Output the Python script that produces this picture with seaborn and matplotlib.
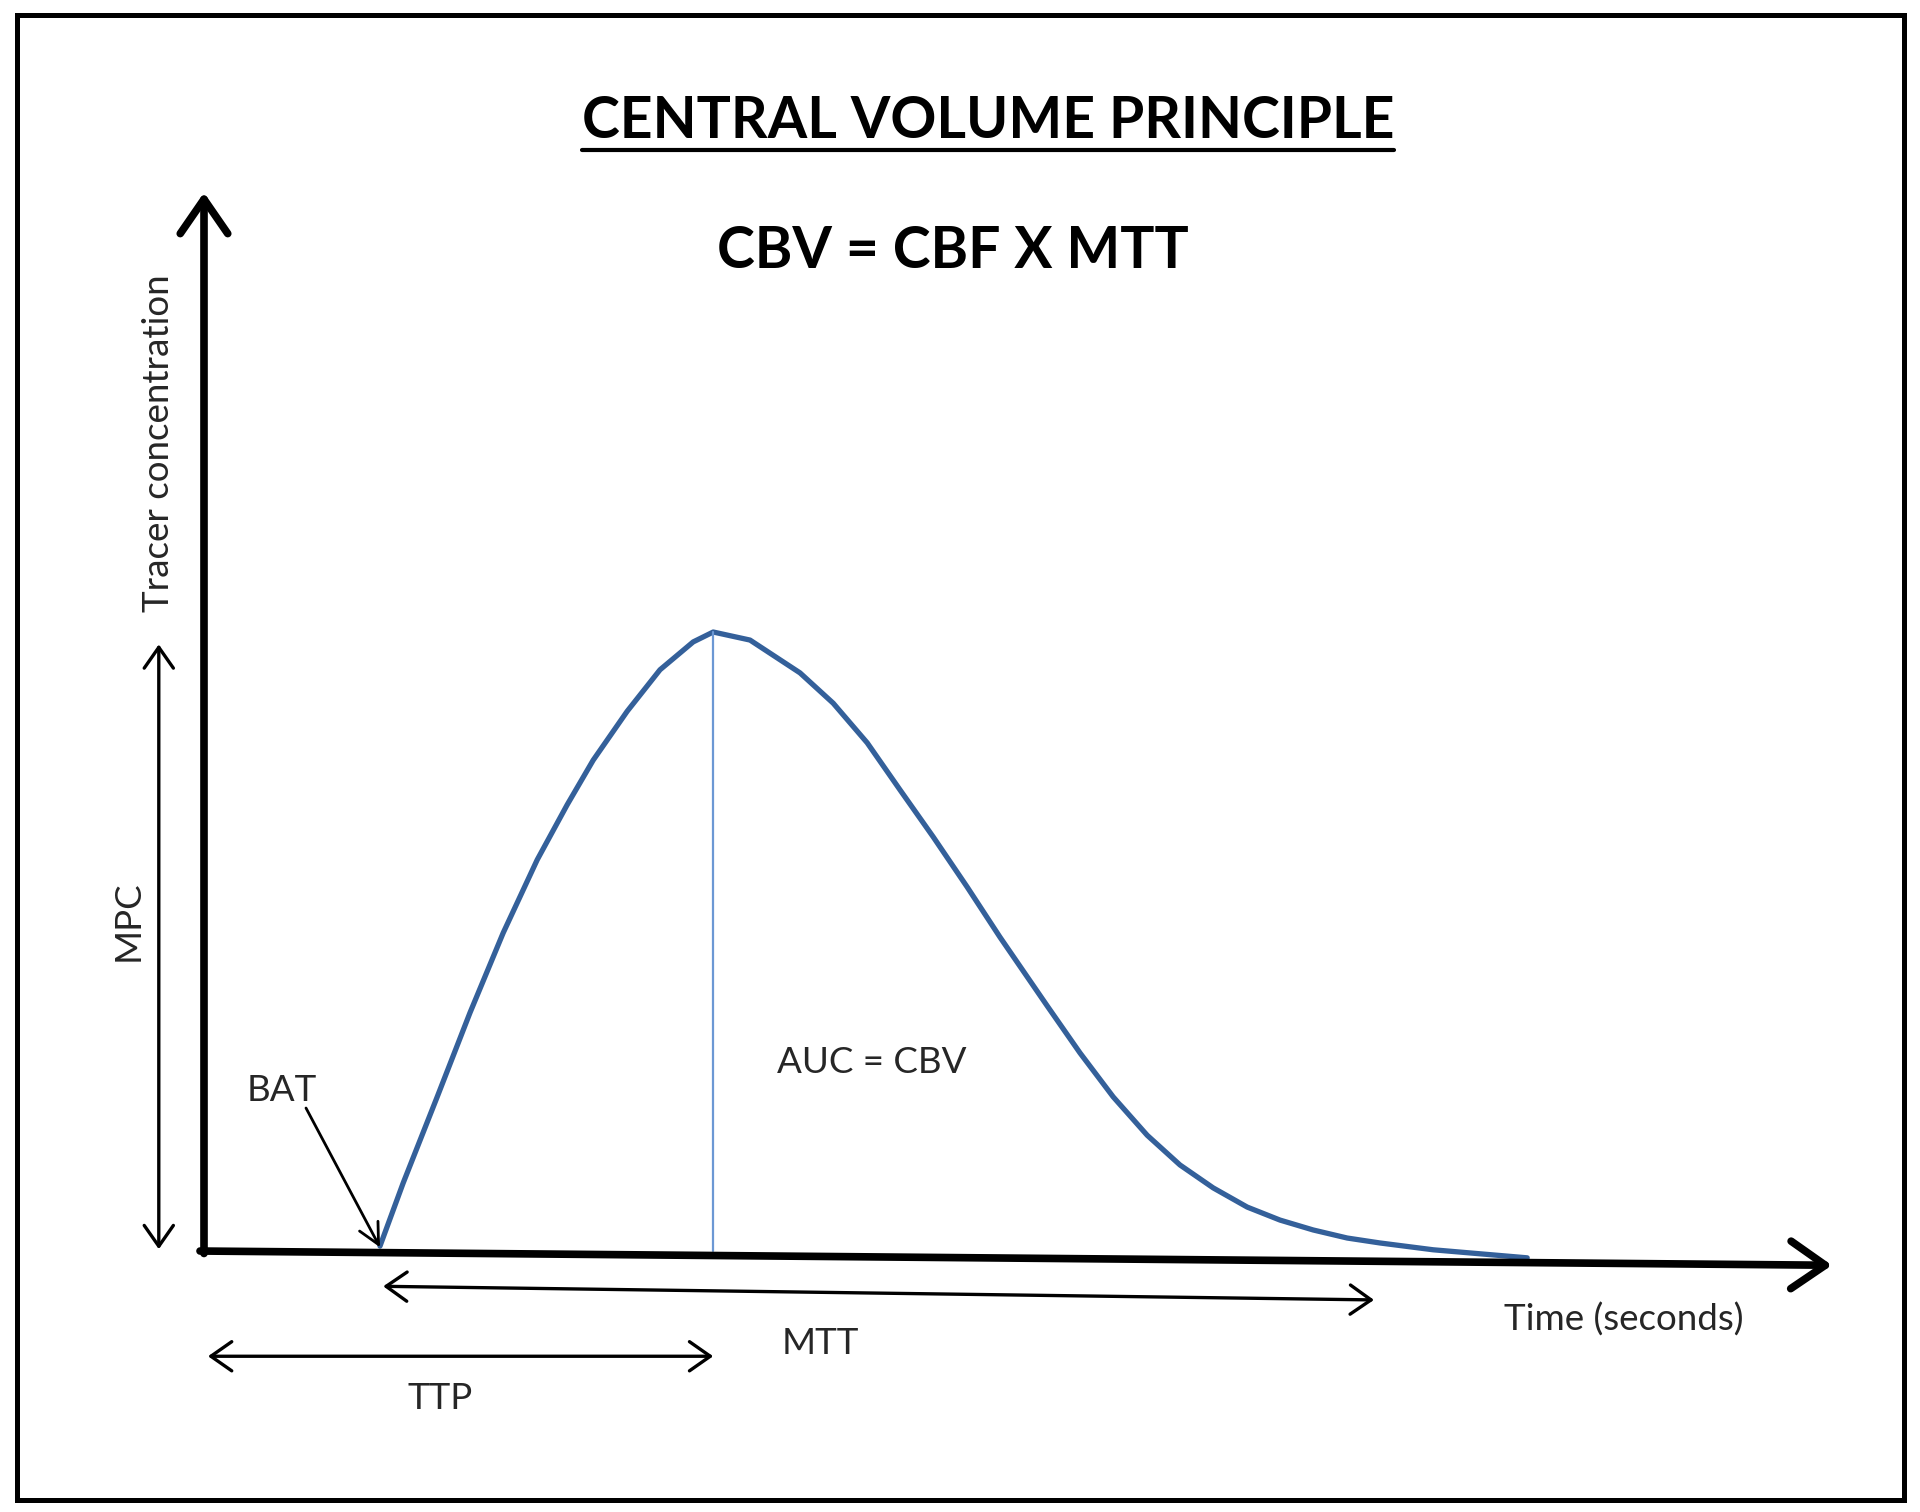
import numpy as np
import seaborn as sns
import matplotlib.pyplot as plt
from matplotlib.patches import Rectangle
from matplotlib.lines import Line2D

# curve: time (s) vs tracer concentration (peak = 100)
time_s = [4.40, 4.98, 5.83, 6.65, 7.48, 8.33, 9.08, 9.73, 10.58, 11.40, 12.23,
          12.73, 13.65, 14.90, 15.73, 16.58, 17.40, 18.23, 19.08, 19.90, 21.08,
          21.90, 22.73, 23.58, 24.40, 25.23, 26.08, 26.90, 27.73, 28.58, 29.40,
          30.73, 33.08]
conc = [0.8, 11.0, 24.9, 38.5, 51.4, 63.2, 72.1, 79.3, 87.2, 93.9, 98.4,
        100.0, 98.7, 93.4, 88.5, 82.1, 74.5, 66.9, 58.8, 50.7, 39.6,
        32.0, 24.9, 18.7, 13.9, 10.2, 7.1, 5.0, 3.4, 2.1, 1.3,
        0.2, -1.1]

bat_t = 4.40        # bolus arrival time
ttp_t = 12.73       # time to peak
mtt_t = [4.48, 29.25]
mtt_c = [-5.7, -7.9]
mpc = 98.0          # maximum peak concentration
x_axis_end = (40.7, -2.3)
y_axis_end = 171.0

title = "CENTRAL VOLUME PRINCIPLE"
formula = "CBV = CBF X MTT"

sns.set_theme(style="white")
plt.rcParams['font.family'] = ['Lato', 'DejaVu Sans']

fig = plt.figure(figsize=(19.2, 15.12), dpi=100)
ax = fig.add_axes([0, 0, 1, 1])
ax.set_xlim(-5.1, 42.9)
ax.set_ylim(-42.16, 202.1)
ax.axis("off")

blue = "#34609a"
ink = "#262626"

# axes drawn as arrows
head = "->,head_length=0.55,head_width=0.38"
ax.annotate("", xy=(0, y_axis_end), xytext=(0, -0.4),
            arrowprops=dict(arrowstyle=head, lw=5.5, color="black",
                            shrinkA=0, shrinkB=0, mutation_scale=45))
ax.annotate("", xy=x_axis_end, xytext=(-0.1, 0),
            arrowprops=dict(arrowstyle=head, lw=5.5, color="black",
                            shrinkA=0, shrinkB=0, mutation_scale=45))

# bolus curve and peak marker
sns.lineplot(x=time_s, y=conc, color=blue, lw=3.8, ax=ax, sort=False,
             solid_joinstyle="round", solid_capstyle="round")
ax.plot([ttp_t, ttp_t], [0, 100], color="#6c98d4", lw=1.6)

# measurement arrows
small = "<->,head_length=0.5,head_width=0.35"
ax.annotate("", xy=(-1.13, mpc), xytext=(-1.13, 0.3),
            arrowprops=dict(arrowstyle=small, lw=2.4, color="black",
                            shrinkA=0, shrinkB=0, mutation_scale=30))
ax.annotate("", xy=(mtt_t[1], mtt_c[1]), xytext=(mtt_t[0], mtt_c[0]),
            arrowprops=dict(arrowstyle=small, lw=2.4, color="black",
                            shrinkA=0, shrinkB=0, mutation_scale=30))
ax.annotate("", xy=(ttp_t, -17.0), xytext=(0.1, -17.0),
            arrowprops=dict(arrowstyle=small, lw=2.4, color="black",
                            shrinkA=0, shrinkB=0, mutation_scale=30))
ax.annotate("", xy=(bat_t, 0.6), xytext=(2.55, 23.1),
            arrowprops=dict(arrowstyle="->,head_length=0.6,head_width=0.3",
                            lw=2.0, color="black", shrinkA=0, shrinkB=0,
                            mutation_scale=25))

lab = dict(fontsize=26.5, color=ink, ha="center", va="center")
ax.text(1.95, 26.0, "BAT", **lab)
ax.text(16.7, 30.4, "AUC = CBV", **lab)
ax.text(15.4, -14.9, "MTT", **lab)
ax.text(5.9, -23.8, "TTP", **lab)
ax.text(35.5, -11.1, "Time (seconds)", **lab)
ax.text(-1.9, 53.3, "MPC", rotation=90, **lab)
ax.text(-1.13, 130.5, "Tracer concentration", rotation=90, **lab)

t = fig.text(988 / 1920, 1 - 122 / 1512, title, fontsize=41, fontweight="bold",
             ha="center", va="center", color="black")
fig.text(953 / 1920, 1 - 251 / 1512, formula, fontsize=41, fontweight="bold",
         ha="center", va="center", color="black")

# underline under the title
fig.canvas.draw()
bb = t.get_window_extent().transformed(fig.transFigure.inverted())
uy = 1 - 150 / 1512
fig.add_artist(Line2D([bb.x0, bb.x1], [uy, uy], transform=fig.transFigure,
                      color="black", lw=3))

# outer frame
fig.add_artist(Rectangle((17 / 1920, 1 - 1500 / 1512), (1904 - 17) / 1920,
                         (1500 - 15) / 1512, transform=fig.transFigure,
                         fill=False, lw=3.6, edgecolor="black"))

fig.savefig("out.png", dpi=100, facecolor="white")
